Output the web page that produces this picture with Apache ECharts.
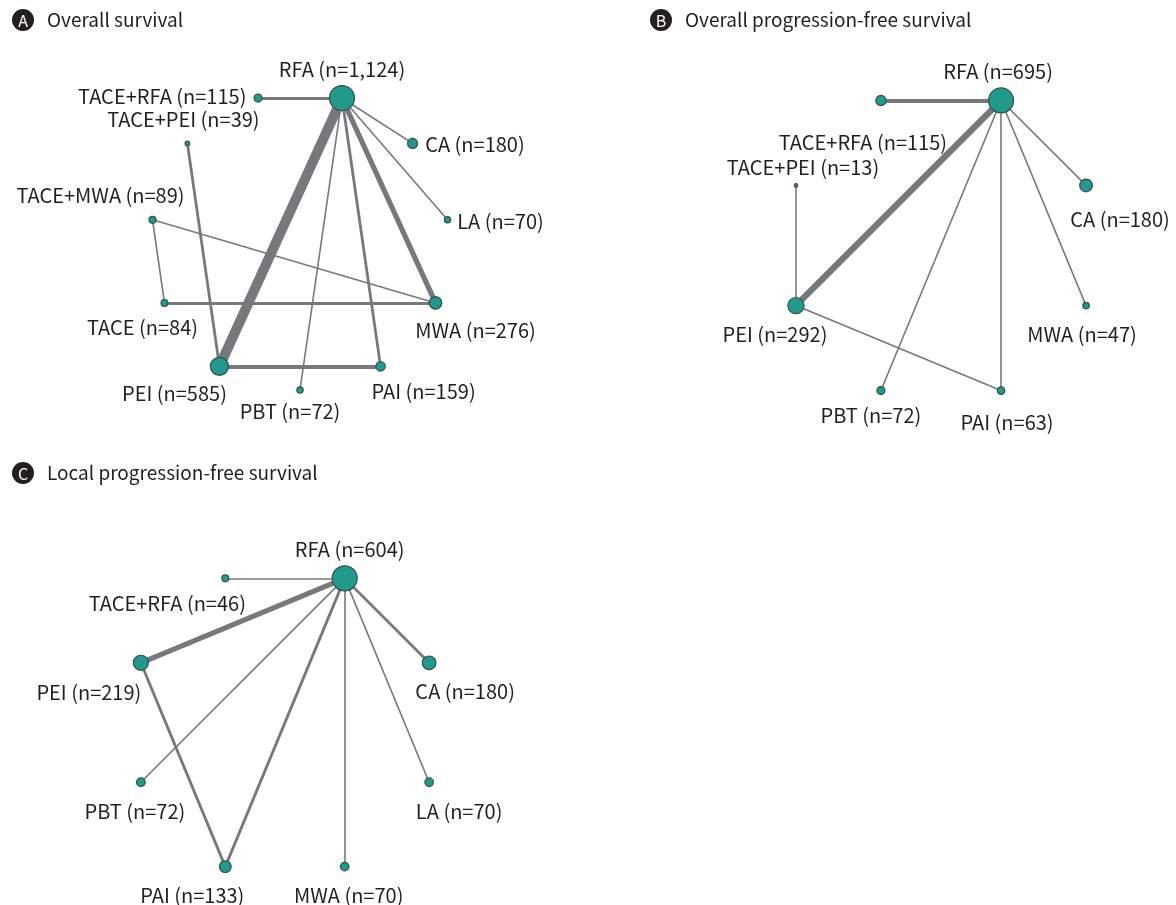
<!DOCTYPE html>
<html>
<head>
<meta charset="utf-8">
<script src="https://cdn.jsdelivr.net/npm/echarts@6/dist/echarts.min.js"></script>
<style>
  html, body { margin: 0; padding: 0; background: #ffffff; }
  #chart { width: 1176px; height: 905px; }
</style>
</head>
<body>
<div id="chart"></div>
<script>
// ---- Network data -------------------------------------------------------
// Treatments are listed clockwise round each network, starting at the top.

// A: overall survival
const treatmentsOS = ['RFA', 'CA', 'LA', 'MWA', 'PAI', 'PBT', 'PEI', 'TACE', 'TACE+MWA', 'TACE+PEI', 'TACE+RFA'];
const patientsOS = [1124, 180, 70, 276, 159, 72, 585, 84, 89, 39, 115];
// [treatment, treatment, number of studies]
const comparisonsOS = [
  ['RFA', 'TACE+RFA', 2], ['RFA', 'CA', 1], ['RFA', 'LA', 1], ['RFA', 'PEI', 8],
  ['RFA', 'PBT', 1], ['RFA', 'PAI', 2], ['RFA', 'MWA', 4], ['TACE+PEI', 'PEI', 2],
  ['TACE+MWA', 'TACE', 1], ['TACE+MWA', 'MWA', 1], ['TACE', 'MWA', 2], ['PEI', 'PAI', 3]
];

// B: overall progression-free survival
const treatmentsOPFS = ['RFA', 'CA', 'MWA', 'PAI', 'PBT', 'PEI', 'TACE+PEI', 'TACE+RFA'];
const patientsOPFS = [695, 180, 47, 63, 72, 292, 13, 115];
const comparisonsOPFS = [
  ['RFA', 'TACE+RFA', 3], ['RFA', 'PEI', 5], ['RFA', 'CA', 1], ['RFA', 'MWA', 1],
  ['RFA', 'PBT', 1], ['RFA', 'PAI', 1], ['PEI', 'PAI', 1], ['TACE+PEI', 'PEI', 1]
];

// C: local progression-free survival
const treatmentsLPFS = ['RFA', 'CA', 'LA', 'MWA', 'PAI', 'PBT', 'PEI', 'TACE+RFA'];
const patientsLPFS = [604, 180, 70, 70, 133, 72, 219, 46];
const comparisonsLPFS = [
  ['RFA', 'TACE+RFA', 1], ['RFA', 'PEI', 4], ['RFA', 'CA', 2], ['RFA', 'LA', 1],
  ['RFA', 'MWA', 1], ['RFA', 'PAI', 2], ['RFA', 'PBT', 1], ['PEI', 'PAI', 2]
];

const panelTitles = ['Overall survival', 'Overall progression-free survival', 'Local progression-free survival'];
const panelLetters = ['A', 'B', 'C'];

// ---- Presentation -------------------------------------------------------
const FONT = '"Noto Sans CJK JP", "Noto Sans", sans-serif';
const INK = '#231f20';
const NODE_FILL = '#21998b';
const NODE_EDGE = '#2e524e';
const LINK_COLOR = '#77787b';
const MAX_NODE = 25;     // diameter of the largest node in a panel
const STUDY_WIDTH = 1.2; // line width per study
const BASE_WIDTH = 0.4;

// Where each circle of treatments sits on the page
const panelFrames = [
  { center: [300, 241], radius: 149 },
  { center: [941, 245.5], radius: 157 },
  { center: [285, 722.5], radius: 156 }
];

// Label placement per node: [side, x shift, gap, y shift]
const labelPlacement = [
  {
    'RFA': ['top', 0, 6], 'TACE+RFA': ['left', 0, 7, -2], 'TACE+PEI': ['top', -4, 11],
    'CA': ['right', 0, 7, 1], 'LA': ['right', 0, 6, 2], 'TACE+MWA': ['top', -52, 10],
    'TACE': ['bottom', -22, 10], 'MWA': ['bottom', 40, 11], 'PAI': ['bottom', 43, 10],
    'PBT': ['bottom', -10, 8], 'PEI': ['bottom', -45, 7]
  },
  {
    'RFA': ['top', -3, 6], 'TACE+RFA': ['bottom', -18, 26], 'TACE+PEI': ['top', 7, 6],
    'CA': ['bottom', 34, 17], 'MWA': ['bottom', -4, 15], 'PEI': ['bottom', -21, 10],
    'PBT': ['bottom', -10, 10], 'PAI': ['bottom', 6, 17]
  },
  {
    'RFA': ['top', 5, 6], 'TACE+RFA': ['bottom', -58, 11], 'PEI': ['bottom', -52, 11],
    'CA': ['bottom', 36, 11], 'PBT': ['bottom', -6, 14], 'LA': ['bottom', 30, 14],
    'PAI': ['bottom', -33, 12], 'MWA': ['bottom', 4, 14]
  }
];

// Panel headings: badge centre
const headingSpots = [[23, 20], [661, 20], [23, 473]];

const panels = [
  [treatmentsOS, patientsOS, comparisonsOS],
  [treatmentsOPFS, patientsOPFS, comparisonsOPFS],
  [treatmentsLPFS, patientsLPFS, comparisonsLPFS]
];

function formatCount(n) {
  return String(n).replace(/\B(?=(\d{3})+(?!\d))/g, ',');
}

const polar = [], angleAxis = [], radiusAxis = [], series = [], title = [], graphic = [];

panels.forEach(([treatments, patients, comparisons], i) => {
  polar.push({ center: panelFrames[i].center, radius: panelFrames[i].radius });
  angleAxis.push({
    polarIndex: i, type: 'category', data: treatments,
    startAngle: 90, clockwise: true, boundaryGap: true, show: false
  });
  radiusAxis.push({ polarIndex: i, type: 'value', min: 0, max: 1, show: false });

  const largest = Math.max(...patients);
  const nodes = treatments.map((name, k) => {
    const place = labelPlacement[i][name];
    return {
      name: name,
      value: [1, name],
      symbolSize: MAX_NODE * Math.sqrt(patients[k] / largest),
      label: {
        show: true,
        formatter: name + ' (n=' + formatCount(patients[k]) + ')',
        position: place[0],
        distance: place[2],
        offset: [place[1], place[3] || 0]
      }
    };
  });
  const links = comparisons.map(([a, b, studies]) => ({
    source: a, target: b, value: studies,
    lineStyle: { width: BASE_WIDTH + studies * STUDY_WIDTH }
  }));

  series.push({
    type: 'graph',
    coordinateSystem: 'polar',
    polarIndex: i,
    symbol: 'circle',
    data: nodes,
    links: links,
    silent: true,
    itemStyle: { color: NODE_FILL, borderColor: NODE_EDGE, borderWidth: 1.2 },
    lineStyle: { color: LINK_COLOR, opacity: 1, curveness: 0 },
    label: { color: INK, fontFamily: FONT, fontSize: 20 },
    emphasis: { disabled: true }
  });
});

panelTitles.forEach((t, i) => {
  const [cx, cy] = headingSpots[i];
  graphic.push({
    type: 'circle', silent: true,
    shape: { cx: cx, cy: cy, r: 11 },
    style: { fill: INK }
  });
  graphic.push({
    type: 'text', silent: true,
    style: {
      text: panelLetters[i], x: cx, y: cy + 0.5, align: 'center', verticalAlign: 'middle',
      fill: '#ffffff', font: '16px ' + FONT
    }
  });
  title.push({
    left: cx + 24, top: cy - 10, padding: 0,
    text: t,
    textStyle: { color: INK, fontSize: 19, fontWeight: 'normal', fontFamily: FONT }
  });
});

const chart = echarts.init(document.getElementById('chart'), null, { renderer: 'canvas' });
chart.setOption({
  backgroundColor: '#ffffff',
  animation: false,
  title: title,
  graphic: graphic,
  polar: polar,
  angleAxis: angleAxis,
  radiusAxis: radiusAxis,
  series: series
});
</script>
</body>
</html>
